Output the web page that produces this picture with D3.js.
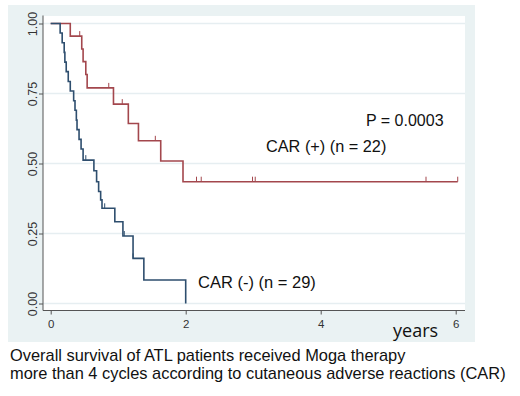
<!DOCTYPE html>
<html><head><meta charset="utf-8">
<script src="https://cdn.jsdelivr.net/npm/d3@7"></script>
<style>body{margin:0;background:#fff}svg{display:block}</style>
</head><body>
<script>
// Kaplan-Meier step data (time in years, survival)
const carPosTimes = [0, 0.29, 0.46, 0.48, 0.52, 0.54, 0.93, 1.15, 1.30, 1.63, 1.96];
const carPosSurv  = [1, 0.955, 0.909, 0.864, 0.818, 0.770, 0.712, 0.643, 0.581, 0.509, 0.435];
const carPosEnd = 6.03;
const carPosCensor = [0.43, 0.86, 1.06, 1.55, 2.16, 2.23, 2.99, 3.03, 5.56, 6.03];

const carNegTimes = [0, 0.14, 0.17, 0.20, 0.21, 0.23, 0.26, 0.29, 0.34, 0.36, 0.38, 0.39, 0.42, 0.45, 0.48, 0.64, 0.68, 0.71, 0.74, 0.76, 0.95, 1.07, 1.22, 1.38, 2.0];
const carNegSurv  = [1, 0.966, 0.931, 0.897, 0.862, 0.828, 0.793, 0.759, 0.724, 0.690, 0.655, 0.621, 0.586, 0.552, 0.512, 0.474, 0.435, 0.400, 0.370, 0.340, 0.292, 0.241, 0.161, 0.084, 0];
const carNegEnd = 2.0;
const carNegCensor = [0.52, 0.80, 1.09, 1.22];

const yTicks = [0, 0.25, 0.5, 0.75, 1];
const yTickLabels = ["0.00", "0.25", "0.50", "0.75", "1.00"];
const xTicks = [0, 2, 4, 6];

const W = 520, H = 396;
const svg = d3.select("body").append("svg").attr("width", W).attr("height", H);

// outer panel
svg.append("rect").attr("x", 8).attr("y", 5).attr("width", 467).attr("height", 337).attr("fill", "#eaf2f3");
// plot region
svg.append("rect").attr("x", 43).attr("y", 16).attr("width", 422).attr("height", 294).attr("fill", "#fff");

const x = d3.scaleLinear().domain([0, 6]).range([50.7, 455.7]);
const y = d3.scaleLinear().domain([0, 1]).range([303.5, 23.5]);

// gridlines
svg.append("g").selectAll("line").data(yTicks).join("line")
  .attr("x1", 43).attr("x2", 465)
  .attr("y1", d => y(d)).attr("y2", d => y(d))
  .attr("stroke", "#e6eef1").attr("stroke-width", 1.5);

// y axis
const yAxis = svg.append("g").attr("transform", "translate(43,0)")
  .call(d3.axisLeft(y).tickValues(yTicks).tickSize(4).tickFormat((d,i) => yTickLabels[i]));
yAxis.select(".domain").attr("stroke", "#555").attr("d", `M0,${y(1)-8}V310.5`);
yAxis.selectAll(".tick line").attr("stroke", "#555");
yAxis.selectAll(".tick text")
  .attr("transform", "rotate(-90)")
  .attr("x", 0).attr("y", -6.5).attr("dy", 0)
  .attr("text-anchor", "middle")
  .attr("font-family", "Arial, 'Liberation Sans', sans-serif").attr("font-size", 12.5).attr("fill", "#333");

// x axis
const xAxis = svg.append("g").attr("transform", "translate(0,310.5)")
  .call(d3.axisBottom(x).tickValues(xTicks).tickSize(4).tickFormat(d3.format("d")));
xAxis.select(".domain").attr("stroke", "#555").attr("d", "M43,0H465");
xAxis.selectAll(".tick line").attr("stroke", "#555");
xAxis.selectAll(".tick text").attr("y", 9).attr("dy", "0.71em")
  .attr("font-family", "Arial, 'Liberation Sans', sans-serif").attr("font-size", 11.5).attr("fill", "#333");

function kmPoints(times, surv, end) {
  const pts = times.map((t, i) => [t, surv[i]]);
  if (end > times[times.length - 1]) pts.push([end, surv[surv.length - 1]]);
  return pts;
}
function survAt(times, surv, t) {
  let s = 1;
  for (let i = 0; i < times.length; i++) if (times[i] <= t) s = surv[i];
  return s;
}
const line = d3.line().x(d => x(d[0])).y(d => y(d[1])).curve(d3.curveStepAfter);

const series = [
  {times: carPosTimes, surv: carPosSurv, end: carPosEnd, censor: carPosCensor, color: "#a3474d"},
  {times: carNegTimes, surv: carNegSurv, end: carNegEnd, censor: carNegCensor, color: "#2e4e6e"}
];
series.forEach(s => {
  svg.append("path").datum(kmPoints(s.times, s.surv, s.end))
    .attr("d", line).attr("fill", "none").attr("stroke", s.color).attr("stroke-width", 1.6);
  svg.append("g").selectAll("line").data(s.censor).join("line")
    .attr("x1", d => x(d)).attr("x2", d => x(d))
    .attr("y1", d => y(survAt(s.times, s.surv, d))).attr("y2", d => y(survAt(s.times, s.surv, d)) - 5)
    .attr("stroke", s.color).attr("stroke-width", 1);
});

// annotations
const txt = (t, xx, yy, size, fam) => svg.append("text").attr("x", xx).attr("y", yy)
  .attr("font-family", fam || "Arial, 'Liberation Sans', sans-serif").attr("font-size", size).attr("fill", "#111").text(t);
txt("P = 0.0003", 366, 126, 16);
txt("CAR (+) (n = 22)", 266, 152, 16.3);
txt("CAR (-) (n = 29)", 198, 288, 16.5);
txt("years", 393, 337, 18, "'Open Sans', sans-serif");
txt("Overall survival of ATL patients received Moga therapy", 10, 361, 16.4);
txt("more than 4 cycles according to cutaneous adverse reactions (CAR)", 10, 379, 16.4);
</script>
</body></html>
